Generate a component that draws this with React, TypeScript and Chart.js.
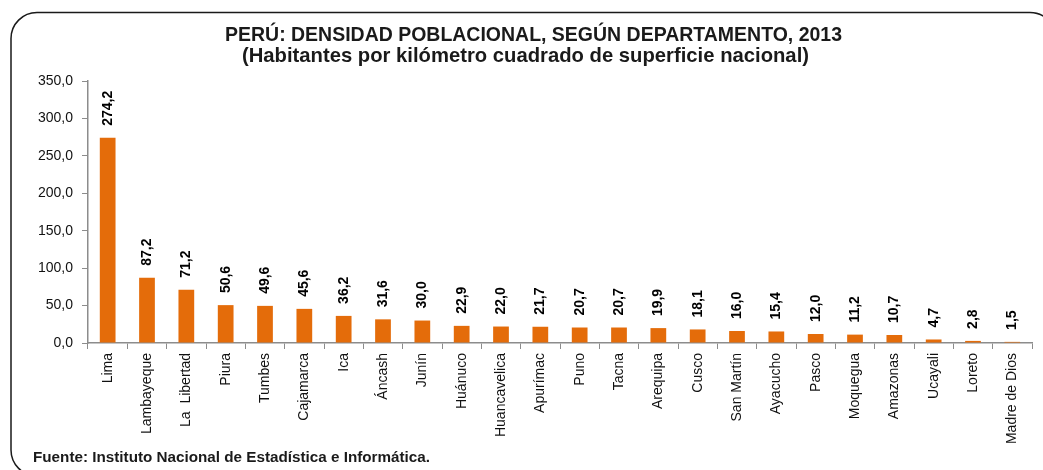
import React, { useEffect, useRef } from "react";
import { Chart, registerables } from "chart.js";

Chart.register(...registerables);

const departamentos = [
  "Lima", "Lambayeque", "La  Libertad", "Piura", "Tumbes", "Cajamarca", "Ica", "Áncash",
  "Junín", "Huánuco", "Huancavelica", "Apurímac", "Puno", "Tacna", "Arequipa", "Cusco",
  "San Martín", "Ayacucho", "Pasco", "Moquegua", "Amazonas", "Ucayali", "Loreto", "Madre de Dios",
];
const densidad = [
  274.2, 87.2, 71.2, 50.6, 49.6, 45.6, 36.2, 31.6, 30.0, 22.9, 22.0, 21.7, 20.7, 20.7, 19.9,
  18.1, 16.0, 15.4, 12.0, 11.2, 10.7, 4.7, 2.8, 1.5,
];
const titulo1 = "PERÚ: DENSIDAD POBLACIONAL, SEGÚN DEPARTAMENTO, 2013";
const titulo2 = "(Habitantes por kilómetro cuadrado de superficie nacional)";
const fuente = "Fuente: Instituto Nacional de Estadística e Informática.";
const yMax = 350;
const yStep = 50;

const FONT = "'Liberation Sans', Arial, sans-serif";
const fmt = (v: number) => v.toFixed(1).replace(".", ",");

// draw text starting at xLeft, horizontally fitted to a given width
function fitText(ctx: CanvasRenderingContext2D, text: string, xLeft: number, y: number, width: number) {
  const w = ctx.measureText(text).width;
  const sx = width / w;
  ctx.save();
  ctx.translate(xLeft, y);
  ctx.scale(sx, 1);
  ctx.textAlign = "left";
  ctx.textBaseline = "alphabetic";
  ctx.fillText(text, 0, 0);
  ctx.restore();
}

const decorPlugin = {
  id: "decor",
  afterDraw(chart: any) {
    const ctx: CanvasRenderingContext2D = chart.ctx;
    // frame
    ctx.save();
    ctx.strokeStyle = "#1a1a1a";
    ctx.lineWidth = 1.5;
    const x0 = 11, y0 = 12.5, x1 = 1056, y1 = 476, r = 26;
    ctx.beginPath();
    ctx.moveTo(x0 + r, y0);
    ctx.lineTo(x1 - r, y0);
    ctx.arcTo(x1, y0, x1, y0 + r, r);
    ctx.lineTo(x1, y1 - r);
    ctx.arcTo(x1, y1, x1 - r, y1, r);
    ctx.lineTo(x0 + r, y1);
    ctx.arcTo(x0, y1, x0, y1 - r, r);
    ctx.lineTo(x0, y0 + r);
    ctx.arcTo(x0, y0, x0 + r, y0, r);
    ctx.closePath();
    ctx.stroke();
    ctx.restore();

    // titles
    ctx.save();
    ctx.fillStyle = "#1a1a1a";
    ctx.font = `bold 21px ${FONT}`;
    fitText(ctx, titulo1, 225, 41, 617);
    fitText(ctx, titulo2, 242, 62, 567);
    ctx.font = `bold 14px ${FONT}`;
    fitText(ctx, fuente, 33, 462, 397);
    ctx.restore();

    // data labels
    const meta = chart.getDatasetMeta(0);
    ctx.save();
    ctx.fillStyle = "#000";
    ctx.font = `bold 14px ${FONT}`;
    meta.data.forEach((bar: any, i: number) => {
      ctx.save();
      ctx.translate(bar.x, bar.y - 12);
      ctx.rotate(-Math.PI / 2);
      ctx.textAlign = "left";
      ctx.textBaseline = "middle";
      ctx.fillText(fmt(densidad[i]), 0, 0);
      ctx.restore();
    });
    ctx.restore();
  },
};

export default function App() {
  const ref = useRef<HTMLCanvasElement | null>(null);
  useEffect(() => {
    if (!ref.current) return;
    const chart = new Chart(ref.current, {
      type: "bar",
      data: {
        labels: departamentos,
        datasets: [
          {
            data: densidad,
            backgroundColor: "#E46C0A",
            borderWidth: 0,
            barPercentage: 0.4,
            categoryPercentage: 1,
          },
        ],
      },
      options: {
        responsive: false,
        animation: false,
        devicePixelRatio: 1,
        layout: { padding: { left: 0, right: 11, top: 81, bottom: 0 } },
        plugins: { legend: { display: false }, title: { display: false }, tooltip: { enabled: false } },
        scales: {
          x: {
            offset: true,
            grid: { display: true, offset: true, drawOnChartArea: false, drawTicks: true, tickLength: 6, color: "#8c8c8c" },
            border: { color: "#8c8c8c", width: 1.5 },
            ticks: {
              autoSkip: false,
              minRotation: 90,
              maxRotation: 90,
              padding: 4,
              color: "#111",
              font: { family: FONT, size: 14 },
            },
            afterFit(scale: any) {
              scale.height = 127;
            },
          },
          y: {
            min: 0,
            max: yMax,
            grid: { display: true, drawOnChartArea: false, drawTicks: true, tickLength: 6, color: "#8c8c8c" },
            border: { color: "#8c8c8c", width: 1.5 },
            ticks: {
              stepSize: yStep,
              padding: 9,
              color: "#111",
              font: { family: FONT, size: 14 },
              callback: (v: any) => fmt(Number(v)),
            },
            afterFit(scale: any) {
              scale.width = 88;
            },
          },
        },
      },
      plugins: [decorPlugin],
    });
    return () => chart.destroy();
  }, []);
  return (
    <div style={{ position: "absolute", left: 0, top: 0, width: 1043, height: 470, background: "#fff" }}>
      <canvas ref={ref} width={1043} height={470} style={{ display: "block" }} />
    </div>
  );
}
